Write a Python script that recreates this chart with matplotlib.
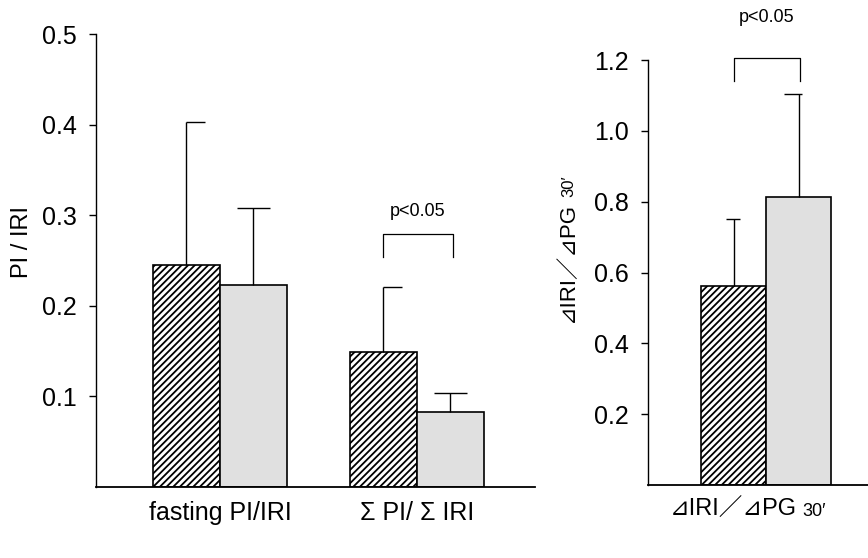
import numpy as np
import matplotlib
matplotlib.use("Agg")
import matplotlib.pyplot as plt

# left panel: PI/IRI ratios
groups = ["fasting PI/IRI", "\u03a3 PI/ \u03a3 IRI"]
hatched_vals = [0.245, 0.149]
hatched_err = [0.158, 0.072]
gray_vals = [0.223, 0.083]
gray_err = [0.085, 0.021]

# right panel: dIRI/dPG 30'
right_hatched = 0.562
right_hatched_err = 0.189
right_gray = 0.813
right_gray_err = 0.291

left_yticks = [0.1, 0.2, 0.3, 0.4, 0.5]
right_yticks = [0.2, 0.4, 0.6, 0.8, 1.0, 1.2]

plt.rcParams['font.family'] = ['Liberation Sans', 'DejaVu Sans', 'Noto Sans CJK JP']
plt.rcParams['hatch.linewidth'] = 1.3

W, H = 868, 558
fig = plt.figure(figsize=(W / 100, H / 100), dpi=100)

def px(x0, y0, x1, y1):
    # pixel box -> figure fraction
    return [x0 / W, 1 - y1 / H, (x1 - x0) / W, (y1 - y0) / H]

gray_face = '#e0e0e0'

def style_axis(ax, ticks, ymax):
    ax.spines['top'].set_visible(False)
    ax.spines['right'].set_visible(False)
    ax.spines['left'].set_bounds(0, ymax)
    ax.spines['left'].set_linewidth(1.0)
    ax.spines['bottom'].set_linewidth(1.3)
    ax.set_ylim(0, ymax)
    ax.set_yticks(ticks)
    ax.set_yticklabels([f"{t:.1f}" for t in ticks])
    ax.tick_params(axis='y', direction='out', length=5, width=1.0, pad=9, labelsize=18)

def draw_pair(ax, x, hv, he, gv, ge, caps_h, caps_g):
    ax.bar(x - 0.5, hv, width=1.0, facecolor='white', edgecolor='black',
           hatch='/////', linewidth=1.2)
    ax.bar(x + 0.5, gv, width=1.0, facecolor=gray_face, edgecolor='black',
           linewidth=1.2)
    for cx, v, e, cap in [(x - 0.5, hv, he, caps_h), (x + 0.5, gv, ge, caps_g)]:
        ax.vlines(cx, v, v + e, color='black', linewidth=1.0)
        ax.hlines(v + e, cx + cap[0], cx + cap[1], color='black', linewidth=1.0)

def bracket(ax, x0, x1, y_low, y_top, txt, ty):
    ax.plot([x0, x0, x1, x1], [y_low, y_top, y_top, y_low], color='black',
            linewidth=0.9, clip_on=False)
    ax.text((x0 + x1) / 2, ty, txt, ha='center', va='center', fontsize=13)

# ---------- left panel ----------
ax1 = fig.add_axes(px(96, 34, 535, 487))
scale1 = 67.0
ax1.set_xlim(0, 439 / scale1)
pos = [(220 - 96) / scale1, (417 - 96) / scale1]
draw_pair(ax1, pos[0], hatched_vals[0], hatched_err[0], gray_vals[0], gray_err[0],
          (0.0, 0.28), (-0.24, 0.25))
draw_pair(ax1, pos[1], hatched_vals[1], hatched_err[1], gray_vals[1], gray_err[1],
          (0.0, 0.28), (-0.24, 0.25))
style_axis(ax1, left_yticks, 0.5)
ax1.set_xticks(pos)
ax1.set_xticklabels(groups)
ax1.tick_params(axis='x', length=0, pad=10, labelsize=18)
bracket(ax1, pos[1] - 0.5, pos[1] + 0.53, 0.254, 0.279, 'p<0.05', 0.304)
fig.text(22 / W, 1 - 242 / H, 'PI / IRI', rotation=90, ha='center', va='center',
         fontsize=17)

# ---------- right panel ----------
ax2 = fig.add_axes(px(648, 60, 868, 485))
scale2 = 65.0
ax2.set_xlim(0, 220 / scale2)
rpos = (766 - 648) / scale2
draw_pair(ax2, rpos, right_hatched, right_hatched_err, right_gray, right_gray_err,
          (-0.12, 0.1), (-0.22, 0.06))
style_axis(ax2, right_yticks, 1.2)
ax2.set_ylim(0, 1.2)
ax2.set_xticks([])
bracket(ax2, rpos - 0.5, rpos + 0.52, 1.14, 1.205, 'p<0.05', 1.32)

# composite labels "⊿IRI／⊿PG 30′"
main = '\u22bfIRI\uff0f\u22bfPG'
small = '30\u2032'
fig.canvas.draw()
r = fig.canvas.get_renderer()

t = fig.text(670 / W, 1 - 516 / H, main, ha='left', va='baseline', fontsize=17)
bb = t.get_window_extent(renderer=r)
fig.text((bb.x1 + 5) / W, 1 - 516 / H, small, ha='left', va='baseline', fontsize=13)

ty = fig.text(573 / W, 1 - 322 / H, main, rotation=90, rotation_mode='anchor',
              ha='left', va='baseline', fontsize=16)
bb2 = ty.get_window_extent(renderer=r)
fig.text(573 / W, (bb2.y1 + 5) / H, small, rotation=90, rotation_mode='anchor',
         ha='left', va='baseline', fontsize=12)

fig.savefig('out.png', dpi=100)
